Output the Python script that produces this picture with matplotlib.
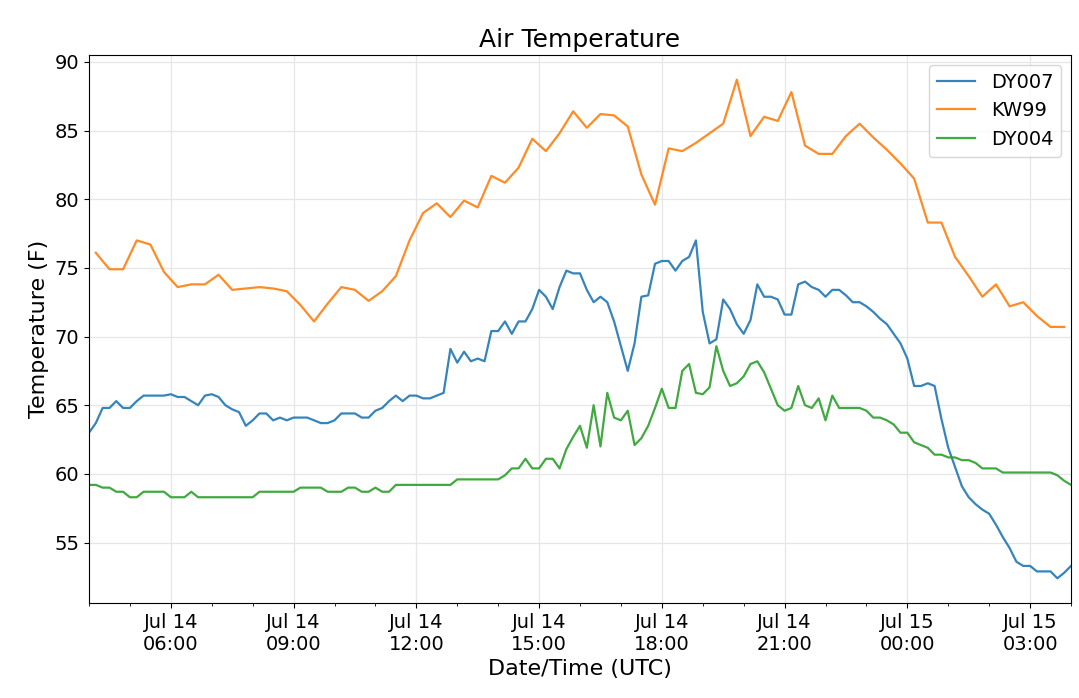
import matplotlib
matplotlib.use("Agg")
import matplotlib.pyplot as plt
import matplotlib.dates as mdates
import pandas as pd

t10 = pd.date_range("2019-07-14 04:00", "2019-07-15 04:00", freq="10min")
t20 = pd.date_range("2019-07-14 04:10", periods=72, freq="20min")

dy007 = [63.0,63.7,64.8,64.8,65.3,64.8,64.8,65.3,65.7,65.7,65.7,65.7,
         65.8,65.6,65.6,65.3,65.0,65.7,65.8,65.6,65.0,64.7,64.5,63.5,
         63.9,64.4,64.4,63.9,64.1,63.9,64.1,64.1,64.1,63.9,63.7,63.7,
         63.9,64.4,64.4,64.4,64.1,64.1,64.6,64.8,65.3,65.7,65.3,65.7,
         65.7,65.5,65.5,65.7,65.9,69.1,68.1,68.9,68.2,68.4,68.2,70.4,
         70.4,71.1,70.2,71.1,71.1,72.0,73.4,72.9,72.0,73.6,74.8,74.6,
         74.6,73.4,72.5,72.9,72.5,71.1,69.3,67.5,69.5,72.9,73.0,75.3,
         75.5,75.5,74.8,75.5,75.8,77.0,71.8,69.5,69.8,72.7,72.0,70.9,
         70.2,71.2,73.8,72.9,72.9,72.7,71.6,71.6,73.8,74.0,73.6,73.4,
         72.9,73.4,73.4,73.0,72.5,72.5,72.2,71.8,71.3,70.9,70.2,69.5,
         68.4,66.4,66.4,66.6,66.4,64.0,61.9,60.5,59.1,58.3,57.8,57.4,
         57.1,56.3,55.4,54.6,53.6,53.3,53.3,52.9,52.9,52.9,52.4,52.8,53.3]

dy004 = [59.2,59.2,59.0,59.0,58.7,58.7,58.3,58.3,58.7,58.7,58.7,58.7,
         58.3,58.3,58.3,58.7,58.3,58.3,58.3,58.3,58.3,58.3,58.3,58.3,
         58.3,58.7,58.7,58.7,58.7,58.7,58.7,59.0,59.0,59.0,59.0,58.7,
         58.7,58.7,59.0,59.0,58.7,58.7,59.0,58.7,58.7,59.2,59.2,59.2,
         59.2,59.2,59.2,59.2,59.2,59.2,59.6,59.6,59.6,59.6,59.6,
         59.6,59.6,59.9,60.4,60.4,61.1,60.4,60.4,61.1,61.1,60.4,61.8,
         62.7,63.5,61.9,65.0,62.0,65.9,64.1,63.9,64.6,62.1,62.6,63.5,
         64.8,66.2,64.8,64.8,67.5,68.0,65.9,65.8,66.3,69.3,67.5,66.4,
         66.6,67.1,68.0,68.2,67.4,66.2,65.0,64.6,64.8,66.4,65.0,64.8,
         65.5,63.9,65.7,64.8,64.8,64.8,64.8,64.6,64.1,64.1,63.9,63.6,
         63.0,63.0,62.3,62.1,61.9,61.4,61.4,61.2,61.2,61.0,61.0,60.8,
         60.4,60.4,60.4,60.1,60.1,60.1,60.1,60.1,60.1,60.1,60.1,
         59.9,59.5,59.2]

kw99 = [76.1,74.9,74.9,77.0,76.7,74.7,73.6,73.8,73.8,74.5,73.4,73.5,
        73.6,73.5,73.3,72.3,71.1,72.4,73.6,73.4,72.6,73.3,74.4,77.0,
        79.0,79.7,78.7,79.9,79.4,81.7,81.2,82.3,84.4,83.5,84.8,86.4,
        85.2,86.2,86.1,85.3,81.8,79.6,83.7,83.5,84.1,84.8,85.5,88.7,
        84.6,86.0,85.7,87.8,83.9,83.3,83.3,84.6,85.5,84.5,83.6,82.6,
        81.5,78.3,78.3,75.8,74.4,72.9,73.8,72.2,72.5,71.5,70.7,70.7]

fig = plt.figure(figsize=(10.79, 6.98), dpi=100)
ax = fig.add_axes([89/1079, 1-603/698, (1071-89)/1079, (603-55)/698])
ax.plot(t10, dy007, color="#1f77b4", lw=1.6, alpha=0.9, label="DY007")
ax.plot(t20, kw99, color="#ff7f0e", lw=1.6, alpha=0.9, label="KW99")
ax.plot(t10, dy004, color="#2ca02c", lw=1.6, alpha=0.9, label="DY004")
ax.set_xlim(pd.Timestamp("2019-07-14 04:00"), pd.Timestamp("2019-07-15 04:00"))
ax.set_ylim(50.6, 90.5)
ax.xaxis.set_major_locator(mdates.HourLocator(byhour=[0, 3, 6, 9, 12, 15, 18, 21]))
ax.xaxis.set_major_formatter(mdates.DateFormatter("%b %d\n%H:%M"))
ax.xaxis.set_minor_locator(mdates.HourLocator())
ax.grid(True, color="#e6e6e6", lw=0.9)
ax.tick_params(labelsize=14)
ax.set_xlabel("Date/Time (UTC)", fontsize=16)
ax.set_ylabel("Temperature (F)", fontsize=16)
ax.set_title("Air Temperature", fontsize=18)
ax.legend(fontsize=14, loc="upper right")
fig.savefig("out.png", dpi=100)
